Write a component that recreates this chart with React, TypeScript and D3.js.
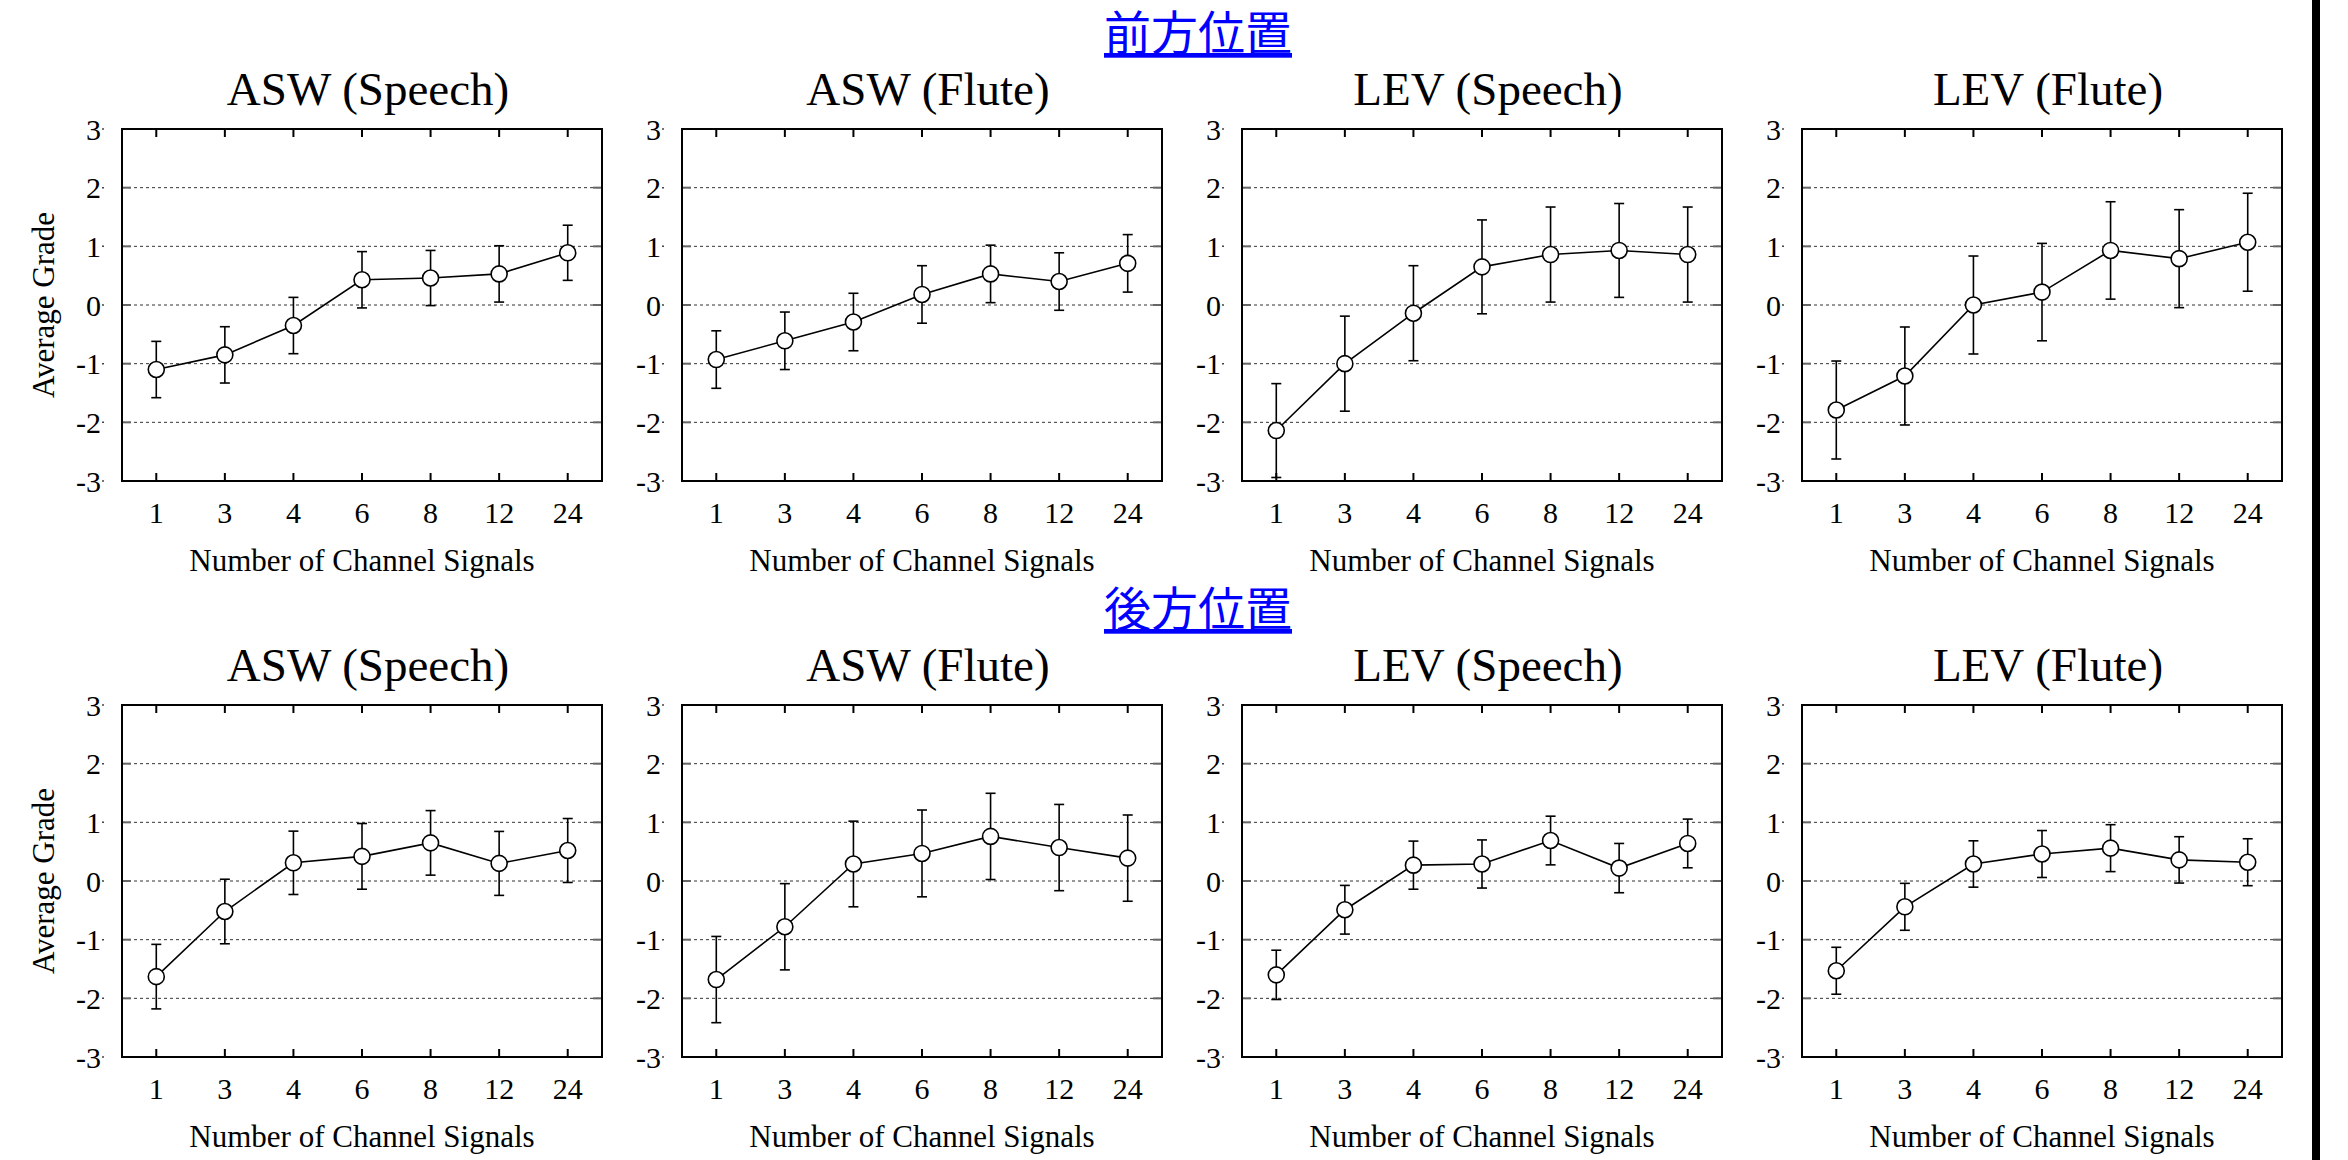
import React from "react";
import * as d3 from "d3";

const categories = ["1", "3", "4", "6", "8", "12", "24"];
const yTicks = [-3, -2, -1, 0, 1, 2, 3];
const gridValues = [-2, -1, 0, 1, 2];
const panelTitles = ["ASW (Speech)", "ASW (Flute)", "LEV (Speech)", "LEV (Flute)"];
const sectionTitles = ["前方位置", "後方位置"];
const xAxisLabel = "Number of Channel Signals";
const yAxisLabel = "Average Grade";

// 前方位置 (front)
const frontAswSpeechMean = [-1.1, -0.85, -0.35, 0.43, 0.46, 0.53, 0.89];
const frontAswSpeechErr = [0.48, 0.48, 0.48, 0.48, 0.47, 0.48, 0.47];
const frontAswFluteMean = [-0.93, -0.61, -0.29, 0.18, 0.53, 0.4, 0.71];
const frontAswFluteErr = [0.49, 0.49, 0.49, 0.49, 0.49, 0.49, 0.49];
const frontLevSpeechMean = [-2.14, -1.0, -0.14, 0.65, 0.86, 0.93, 0.86];
const frontLevSpeechErr = [0.8, 0.81, 0.81, 0.8, 0.81, 0.8, 0.81];
const frontLevFluteMean = [-1.79, -1.21, 0.0, 0.22, 0.93, 0.79, 1.07];
const frontLevFluteErr = [0.835, 0.835, 0.835, 0.83, 0.83, 0.835, 0.835];

// 後方位置 (rear)
const rearAswSpeechMean = [-1.63, -0.52, 0.31, 0.42, 0.65, 0.3, 0.52];
const rearAswSpeechErr = [0.55, 0.55, 0.54, 0.56, 0.55, 0.545, 0.545];
const rearAswFluteMean = [-1.68, -0.78, 0.29, 0.47, 0.76, 0.57, 0.39];
const rearAswFluteErr = [0.735, 0.735, 0.73, 0.74, 0.735, 0.735, 0.735];
const rearLevSpeechMean = [-1.6, -0.49, 0.27, 0.29, 0.69, 0.22, 0.64];
const rearLevSpeechErr = [0.42, 0.415, 0.41, 0.41, 0.415, 0.42, 0.415];
const rearLevFluteMean = [-1.53, -0.44, 0.29, 0.46, 0.56, 0.36, 0.32];
const rearLevFluteErr = [0.4, 0.4, 0.395, 0.4, 0.4, 0.395, 0.4];

const rows = [
  [
    { mean: frontAswSpeechMean, err: frontAswSpeechErr },
    { mean: frontAswFluteMean, err: frontAswFluteErr },
    { mean: frontLevSpeechMean, err: frontLevSpeechErr },
    { mean: frontLevFluteMean, err: frontLevFluteErr },
  ],
  [
    { mean: rearAswSpeechMean, err: rearAswSpeechErr },
    { mean: rearAswFluteMean, err: rearAswFluteErr },
    { mean: rearLevSpeechMean, err: rearLevSpeechErr },
    { mean: rearLevFluteMean, err: rearLevFluteErr },
  ],
];

const W = 2348;
const H = 1160;
const PANEL_LEFT0 = 122;
const PANEL_STEP = 560;
const PANEL_W = 480;
const PANEL_H = 352;
const ROW_TOPS = [129, 705];
const SERIF = "'Liberation Serif', 'Times New Roman', serif";
const CJK = "'Noto Sans CJK JP', 'Noto Sans CJK SC', sans-serif";

function Panel({ left, top, title, mean, err, showYLabel }) {
  const x = d3.scalePoint().domain(categories).range([left, left + PANEL_W]).padding(0.5);
  const y = d3.scaleLinear().domain([-3, 3]).range([top + PANEL_H, top]);
  const bottom = top + PANEL_H;
  const right = left + PANEL_W;
  const pts = categories.map((c, i) => ({ c, v: mean[i], e: err[i] }));
  const line = d3
    .line()
    .x((d) => x(d.c))
    .y((d) => y(d.v));
  const cx = left + PANEL_W / 2;
  return (
    <g>
      <text
        x={cx + 6}
        y={top - 24}
        textAnchor="middle"
        fontFamily={SERIF}
        fontSize={47}
        fill="#000"
      >
        {title}
      </text>
      {/* grid lines */}
      {gridValues.map((g) => (
        <line
          key={"g" + g}
          x1={left}
          x2={right}
          y1={y(g)}
          y2={y(g)}
          stroke="#333"
          strokeWidth={1}
          strokeDasharray="3,3"
        />
      ))}
      {/* y ticks inside, both sides */}
      {gridValues.map((g) => (
        <g key={"yt" + g}>
          <line x1={left} x2={left + 9} y1={y(g)} y2={y(g)} stroke="#666" strokeWidth={2} />
          <line x1={right - 9} x2={right} y1={y(g)} y2={y(g)} stroke="#666" strokeWidth={2} />
        </g>
      ))}
      {/* x ticks inside, top and bottom */}
      {categories.map((c) => (
        <g key={"xt" + c}>
          <line x1={x(c)} x2={x(c)} y1={top} y2={top + 8} stroke="#000" strokeWidth={2} />
          <line x1={x(c)} x2={x(c)} y1={bottom} y2={bottom - 8} stroke="#000" strokeWidth={2} />
        </g>
      ))}
      {/* frame */}
      <rect x={left} y={top} width={PANEL_W} height={PANEL_H} fill="none" stroke="#000" strokeWidth={2} />
      {/* y tick labels */}
      {yTicks.map((t) => (
        <g key={"yl" + t}>
          <text
            x={left - 21}
            y={y(t)}
            textAnchor="end"
            dominantBaseline="central"
            fontFamily={SERIF}
            fontSize={30}
            fill="#000"
          >
            {String(t)}
          </text>
          <line x1={left - 20} x2={left - 18} y1={y(t)} y2={y(t)} stroke="#444" strokeWidth={1.5} />
        </g>
      ))}
      {/* x tick labels */}
      {categories.map((c) => (
        <text
          key={"xl" + c}
          x={x(c)}
          y={bottom + 42}
          textAnchor="middle"
          fontFamily={SERIF}
          fontSize={30}
          fill="#000"
        >
          {c}
        </text>
      ))}
      <text
        x={cx}
        y={bottom + 90}
        textAnchor="middle"
        fontFamily={SERIF}
        fontSize={31}
        fill="#000"
      >
        {xAxisLabel}
      </text>
      {showYLabel && (
        <text
          transform={`translate(43,${(top + bottom) / 2}) rotate(-90)`}
          textAnchor="middle"
          dominantBaseline="central"
          fontFamily={SERIF}
          fontSize={31}
          fill="#000"
        >
          {yAxisLabel}
        </text>
      )}
      {/* error bars */}
      {pts.map((p) => (
        <g key={"e" + p.c} stroke="#000" strokeWidth={1.6}>
          <line x1={x(p.c)} x2={x(p.c)} y1={y(p.v + p.e)} y2={y(p.v - p.e)} />
          <line x1={x(p.c) - 5} x2={x(p.c) + 5} y1={y(p.v + p.e)} y2={y(p.v + p.e)} />
          <line x1={x(p.c) - 5} x2={x(p.c) + 5} y1={y(p.v - p.e)} y2={y(p.v - p.e)} />
        </g>
      ))}
      <path d={line(pts)} fill="none" stroke="#000" strokeWidth={1.6} />
      {pts.map((p) => (
        <circle key={"c" + p.c} cx={x(p.c)} cy={y(p.v)} r={8} fill="#fff" stroke="#000" strokeWidth={1.6} />
      ))}
    </g>
  );
}

export default function App() {
  return (
    <svg
      width={W}
      height={H}
      viewBox={`0 0 ${W} ${H}`}
      style={{ position: "absolute", left: 0, top: 0, background: "#fff" }}
    >
      <rect x={0} y={0} width={W} height={H} fill="#fff" />
      {rows.map((row, ri) => (
        <g key={"row" + ri}>
          <text
            x={1198}
            y={ROW_TOPS[ri] - 79}
            textAnchor="middle"
            fontFamily={CJK}
            fontSize={47}
            fill="#0000ff"
            textDecoration="underline"
            style={{ textDecoration: "underline" }}
          >
            {sectionTitles[ri]}
          </text>
          {row.map((s, pi) => (
            <Panel
              key={"p" + ri + pi}
              left={PANEL_LEFT0 + pi * PANEL_STEP}
              top={ROW_TOPS[ri]}
              title={panelTitles[pi]}
              mean={s.mean}
              err={s.err}
              showYLabel={pi === 0}
            />
          ))}
        </g>
      ))}
      <rect x={2312} y={0} width={8} height={H} fill="#000" />
    </svg>
  );
}
